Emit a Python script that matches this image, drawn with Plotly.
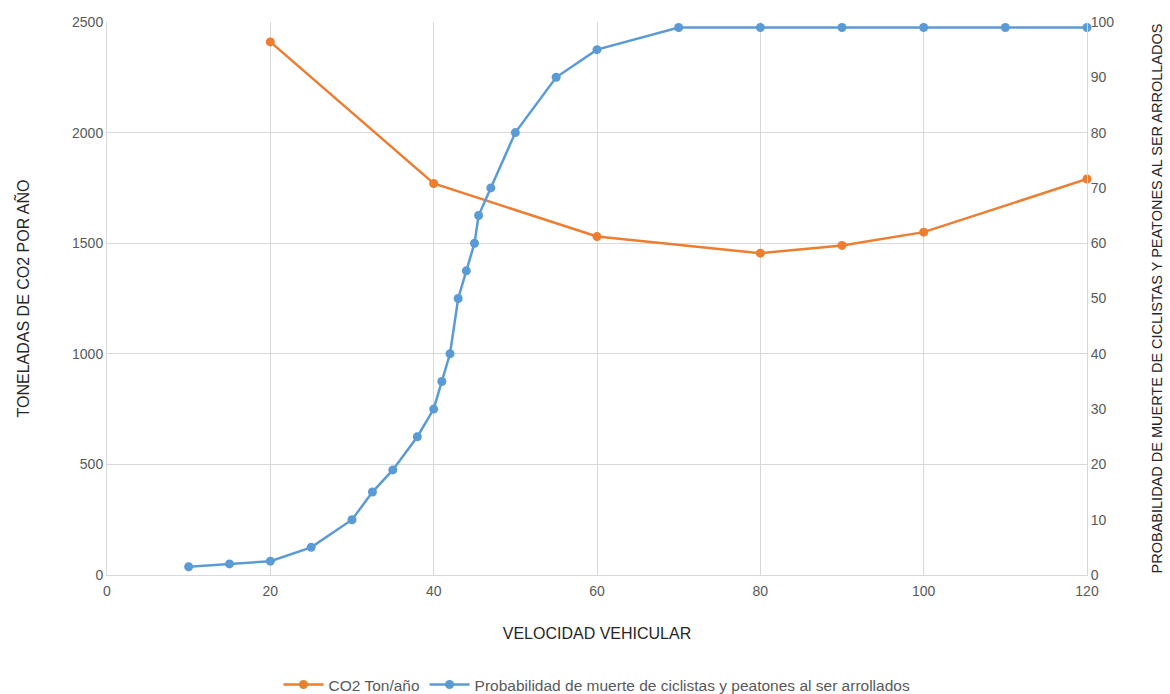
import plotly.graph_objects as go

# Vehicle speed (km/h) and the two measured series
co2_speed = [20, 40, 60, 80, 90, 100, 120]
co2_tons = [2410, 1770, 1530, 1455, 1490, 1550, 1790]

death_speed = [10, 15, 20, 25, 30, 32.5, 35, 38, 40, 41, 42, 43, 44, 45, 45.5, 47,
               50, 55, 60, 70, 80, 90, 100, 110, 120]
death_prob = [1.5, 2, 2.5, 5, 10, 15, 19, 25, 30, 35, 40, 50, 55, 60, 65, 70,
              80, 90, 95, 99, 99, 99, 99, 99, 99]

ORANGE = "#ED7D31"
BLUE = "#5B9BD5"
GRID = "#D9D9D9"
TICK = "#595959"

fig = go.Figure()
fig.add_trace(go.Scatter(
    x=co2_speed, y=co2_tons, name="CO2 Ton/año",
    mode="lines+markers", cliponaxis=False,
    line=dict(color=ORANGE, width=2.5),
    marker=dict(color=ORANGE, size=9),
))
fig.add_trace(go.Scatter(
    x=death_speed, y=death_prob, yaxis="y2",
    name="Probabilidad de muerte de ciclistas y peatones al ser arrollados",
    mode="lines+markers", cliponaxis=False,
    line=dict(color=BLUE, width=2.5),
    marker=dict(color=BLUE, size=9),
))

fig.update_layout(
    width=1170, height=694,
    margin=dict(l=107, r=83, t=22, b=119),
    paper_bgcolor="white", plot_bgcolor="white",
    font=dict(family="Liberation Sans, Arial, sans-serif", size=13, color=TICK),
    xaxis=dict(
        range=[0, 120], dtick=20, tick0=0, automargin=False,
        showgrid=True, gridcolor=GRID, gridwidth=1,
        showline=True, linecolor=GRID, linewidth=1,
        zeroline=False, ticks="", ticklen=0, ticklabelstandoff=3,
        tickfont=dict(size=14, color=TICK),
        title=dict(text="VELOCIDAD VEHICULAR",
                   font=dict(size=16, color="#262626"), standoff=30),
    ),
    yaxis=dict(
        range=[0, 2500], dtick=500, automargin=False,
        showgrid=True, gridcolor=GRID, gridwidth=1,
        showline=True, linecolor=GRID, linewidth=1,
        zeroline=False, ticks="",
        tickfont=dict(size=14, color=TICK),
        title=dict(text="TONELADAS DE CO2 POR AÑO",
                   font=dict(size=16, color="#262626"), standoff=38),
    ),
    yaxis2=dict(
        range=[0, 100], dtick=10, overlaying="y", side="right", automargin=False,
        showgrid=False, showline=True, linecolor=GRID, linewidth=1,
        zeroline=False, ticks="",
        tickfont=dict(size=14, color=TICK),
        title=dict(text="PROBABILIDAD DE MUERTE DE CICLISTAS Y PEATONES AL SER ARROLLADOS",
                   font=dict(size=14.5, color="#262626"), standoff=38),
    ),
    legend=dict(
        orientation="h", x=0.5, xanchor="center",
        yref="container", y=0.013, yanchor="middle",
        font=dict(family="Liberation Sans Narrow, Liberation Sans, sans-serif",
                  size=15.5, color=TICK),
        itemwidth=40,
    ),
    showlegend=True,
)

fig.write_html("out.html")
